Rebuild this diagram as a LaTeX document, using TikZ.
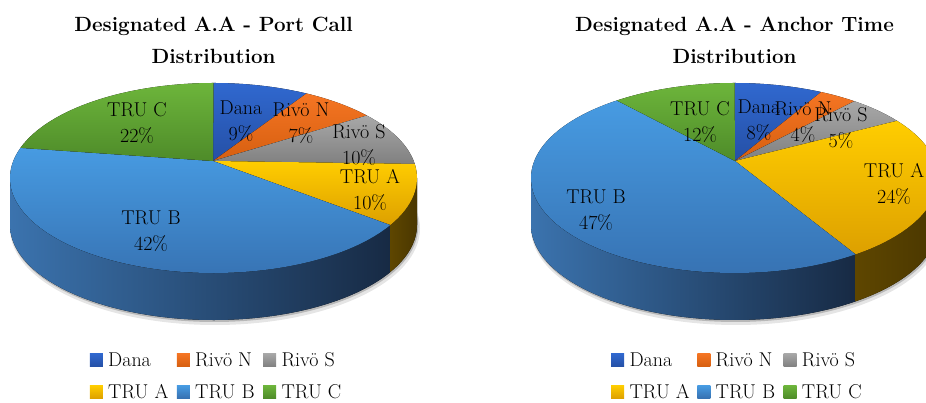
\documentclass[tikz,border=0pt]{standalone}
\usepackage{fontspec}
\setmainfont{Latin Modern Roman}
\usepackage{tikz}
\usetikzlibrary{positioning}
\definecolor{danaT}{HTML}{3068CF}
\definecolor{danaB}{HTML}{2550A6}
\definecolor{rivnT}{HTML}{F57523}
\definecolor{rivnB}{HTML}{D65F10}
\definecolor{rivsT}{HTML}{A8A8A8}
\definecolor{rivsB}{HTML}{808080}
\definecolor{truaT}{HTML}{FFCD00}
\definecolor{truaB}{HTML}{DDA000}
\definecolor{trubT}{HTML}{479BE2}
\definecolor{trubB}{HTML}{3670B0}
\definecolor{trucT}{HTML}{6DB53B}
\definecolor{trucB}{HTML}{4E8B29}
\definecolor{sideBa}{HTML}{3B73AE}
\definecolor{sideBb}{HTML}{21416A}
\definecolor{sideBc}{HTML}{172A44}
\definecolor{sideAa}{HTML}{5E4600}
\definecolor{sideAb}{HTML}{4A3700}
\tikzset{
  dana/.style={top color=danaT, bottom color=danaB},
  rivn/.style={top color=rivnT, bottom color=rivnB},
  rivs/.style={top color=rivsT, bottom color=rivsB},
  trua/.style={top color=truaT, bottom color=truaB},
  trub/.style={top color=trubT, bottom color=trubB},
  truc/.style={top color=trucT, bottom color=trucB},
  sideb/.style={left color=sideBa, middle color=sideBb, right color=sideBc},
  sidea/.style={left color=sideAa, right color=sideAb},
  lbl/.style={align=center, inner sep=0pt, font=\fontsize{20}{26}\selectfont},
  ttl/.style={align=center, inner sep=0pt, font=\fontsize{20.6}{32}\selectfont\bfseries},
  legbox/.style={minimum size=13pt, inner sep=0pt},
  legtxt/.style={inner sep=0pt, font=\fontsize{20}{24}\selectfont}
}
\newcommand{\slicetop}[5]{\fill[#5] (#1) -- ([shift={(#3:203.5pt and 95pt)}]#2) arc[start angle=#3, end angle=#4, x radius=203.5pt, y radius=95pt] -- cycle;}
\newcommand{\sliceside}[4]{\fill[#4] ([shift={(#2:203.5pt and 95pt)}]#1) arc[start angle=#2, end angle=#3, x radius=203.5pt, y radius=95pt] -- ++(0,-47pt) arc[start angle=#3, end angle=#2, x radius=203.5pt, y radius=95pt] -- cycle;}

\begin{document}
\begin{tikzpicture}[x=1pt, y=1pt]
\useasboundingbox (0,0) rectangle (926,403);
\clip (0,0) rectangle (926,403);

\coordinate (pcc) at (213,242);
\coordinate (pce) at (213.5,225);
\coordinate (atc) at (735,242);
\coordinate (ate) at (734.5,225);

\node[ttl] (pcTitle) at (213.5,363) {Designated A.A - Port Call\\Distribution};
\node[ttl] (atTitle) at (734.5,363) {Designated A.A - Anchor Time\\Distribution};

\fill[black!10] ([shift={(1.5pt,-50.5pt)}]pce) ellipse (205pt and 96.5pt);
\fill[black!28] ([shift={(0.8pt,-48.5pt)}]pce) ellipse (204pt and 95.5pt);
\sliceside{pce}{-180}{-29.7}{sideb}
\sliceside{pce}{-29.7}{0}{sidea}
\slicetop{pcc}{pce}{90}{62.8}{dana}
\slicetop{pcc}{pce}{62.8}{41.1}{rivn}
\slicetop{pcc}{pce}{41.1}{8.5}{rivs}
\slicetop{pcc}{pce}{8.5}{-29.7}{trua}
\slicetop{pcc}{pce}{-29.7}{-198.5}{trub}
\slicetop{pcc}{pce}{161.5}{90}{truc}

\fill[black!10] ([shift={(1.5pt,-50.5pt)}]ate) ellipse (205pt and 96.5pt);
\fill[black!28] ([shift={(0.8pt,-48.5pt)}]ate) ellipse (204pt and 95.5pt);
\sliceside{ate}{-180}{-53.5}{sideb}
\sliceside{ate}{-53.5}{0}{sidea}
\slicetop{atc}{ate}{90}{64.8}{dana}
\slicetop{atc}{ate}{64.8}{53.9}{rivn}
\slicetop{atc}{ate}{53.9}{37}{rivs}
\slicetop{atc}{ate}{37}{-53.5}{trua}
\slicetop{atc}{ate}{-53.5}{-234.7}{trub}
\slicetop{atc}{ate}{125.3}{90}{truc}

\node[lbl] (pcDana) at (241,282) {Dana\\9\%};
\node[lbl] (pcRivN) at (301,280) {Rivö N\\7\%};
\node[lbl] (pcRivS) at (359,258) {Rivö S\\10\%};
\node[lbl] (pcTruA) at (370,213) {TRU A\\10\%};
\node[lbl] (pcTruB) at (151,172) {TRU B\\42\%};
\node[lbl] (pcTruC) at (137,280) {TRU C\\22\%};

\node[lbl] (atDana) at (759,283) {Dana\\8\%};
\node[lbl] (atRivN) at (803,281) {Rivö N\\4\%};
\node[lbl] (atRivS) at (841,275) {Rivö S\\5\%};
\node[lbl] (atTruA) at (894,219) {TRU A\\24\%};
\node[lbl] (atTruB) at (596,193) {TRU B\\47\%};
\node[lbl] (atTruC) at (700,281) {TRU C\\12\%};

\node[legbox, dana] (pcLegDana) at (96.3,43) {};
\node[legtxt, right=5pt of pcLegDana] {Dana};
\node[legbox, rivn] (pcLegRivN) at (183.3,43) {};
\node[legtxt, right=5pt of pcLegRivN] {Rivö N};
\node[legbox, rivs] (pcLegRivS) at (269.7,43) {};
\node[legtxt, right=5pt of pcLegRivS] {Rivö S};
\node[legbox, trua] (pcLegTruA) at (96.3,11) {};
\node[legtxt, right=5pt of pcLegTruA] {TRU A};
\node[legbox, trub] (pcLegTruB) at (183.3,11) {};
\node[legtxt, right=5pt of pcLegTruB] {TRU B};
\node[legbox, truc] (pcLegTruC) at (269.7,11) {};
\node[legtxt, right=5pt of pcLegTruC] {TRU C};

\node[legbox, dana] (atLegDana) at (617.7,43) {};
\node[legtxt, right=5pt of atLegDana] {Dana};
\node[legbox, rivn] (atLegRivN) at (703.8,43) {};
\node[legtxt, right=5pt of atLegRivN] {Rivö N};
\node[legbox, rivs] (atLegRivS) at (790,43) {};
\node[legtxt, right=5pt of atLegRivS] {Rivö S};
\node[legbox, trua] (atLegTruA) at (617.7,11) {};
\node[legtxt, right=5pt of atLegTruA] {TRU A};
\node[legbox, trub] (atLegTruB) at (703.8,11) {};
\node[legtxt, right=5pt of atLegTruB] {TRU B};
\node[legbox, truc] (atLegTruC) at (790,11) {};
\node[legtxt, right=5pt of atLegTruC] {TRU C};
\end{tikzpicture}
\end{document}
